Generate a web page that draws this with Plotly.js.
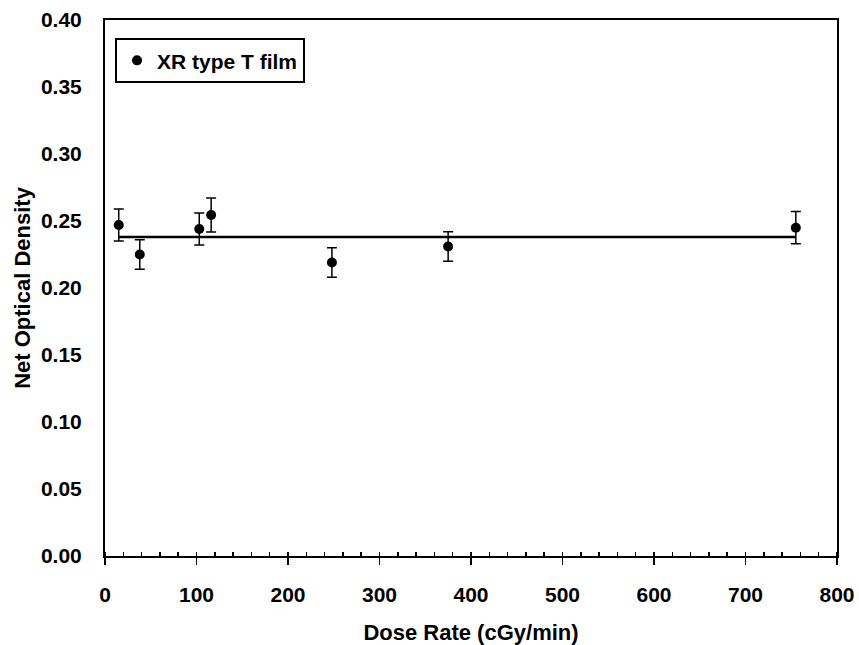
<!DOCTYPE html>
<html>
<head>
<meta charset="utf-8">
<script src="https://cdn.plot.ly/plotly-3.0.1.min.js"></script>
<style>html,body{margin:0;padding:0;background:#fff;}#chart{width:859px;height:645px;}</style>
</head>
<body>
<div id="chart"></div>
<script>
const doseRate = [15, 38, 103, 116, 248, 375, 755];
const netOD = [0.247, 0.225, 0.244, 0.2545, 0.219, 0.231, 0.245];
const odError = [0.012, 0.011, 0.012, 0.0127, 0.011, 0.011, 0.012];
const fitX = [15, 755];
const fitY = [0.238, 0.238];
const seriesName = 'XR type T film';

const font = {family: 'Liberation Sans, Arial, sans-serif', color: '#000', weight: 'bold'};

const traces = [
  {
    x: fitX, y: fitY, mode: 'lines', type: 'scatter', showlegend: false,
    line: {color: '#000', width: 2.5}, hoverinfo: 'skip'
  },
  {
    x: doseRate, y: netOD, mode: 'markers', type: 'scatter', name: seriesName,
    marker: {color: '#000', size: 10, symbol: 'circle'},
    error_y: {type: 'data', array: odError, visible: true, color: '#000', thickness: 1.5, width: 5}
  }
];

const layout = {
  width: 859, height: 645,
  margin: {l: 105, r: 22, t: 20, b: 89},
  paper_bgcolor: '#fff', plot_bgcolor: '#fff',
  showlegend: true,
  legend: {
    x: 0.0137, y: 0.966, xanchor: 'left', yanchor: 'top',
    bordercolor: '#000', borderwidth: 2, bgcolor: '#fff',
    font: Object.assign({}, font, {size: 21}),
    itemsizing: 'trace', itemwidth: 30
  },
  xaxis: {
    range: [0, 800], dtick: 100, tick0: 0,
    showgrid: false, zeroline: false,
    showline: true, linecolor: '#000', linewidth: 2, mirror: true,
    ticks: 'outside', ticklen: 7, tickwidth: 1.5, tickcolor: '#000',
    minor: {dtick: 20, ticks: 'inside', ticklen: 4, tickwidth: 1.5, tickcolor: '#000', showgrid: false},
    ticklabelstandoff: 12,
    tickfont: Object.assign({}, font, {size: 21}),
    title: {text: 'Dose Rate (cGy/min)', font: Object.assign({}, font, {size: 22}), standoff: 20}
  },
  yaxis: {
    range: [0, 0.4], dtick: 0.05, tick0: 0, tickformat: '.2f',
    showgrid: false, zeroline: false,
    showline: true, linecolor: '#000', linewidth: 2, mirror: true,
    ticks: '', ticklabelstandoff: 17,
    tickfont: Object.assign({}, font, {size: 21}),
    title: {text: 'Net Optical Density', font: Object.assign({}, font, {size: 22}), standoff: 4}
  }
};

Plotly.newPlot('chart', traces, layout, {displayModeBar: false, staticPlot: true});
</script>
</body>
</html>
